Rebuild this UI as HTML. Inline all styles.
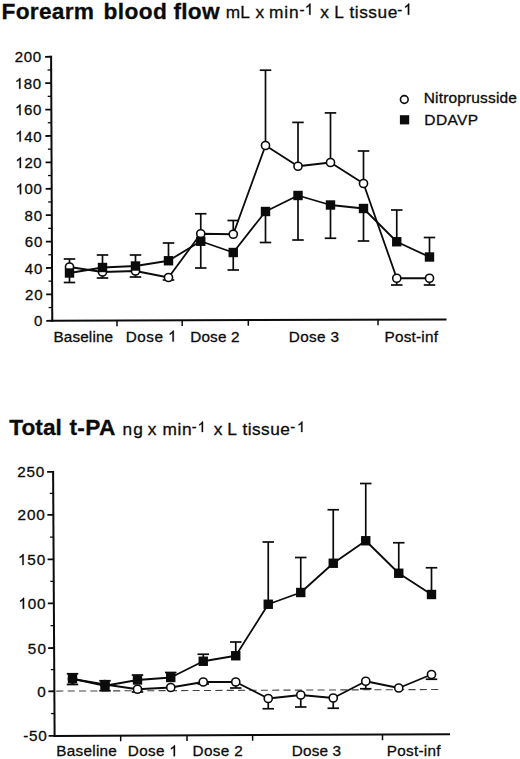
<!DOCTYPE html>
<html><head><meta charset="utf-8"><title>Figure</title>
<style>html,body{margin:0;padding:0;background:#fff;}body{width:520px;height:759px;overflow:hidden;font-family:"Liberation Sans", sans-serif;}svg{display:block;}text{font-family:"Liberation Sans", sans-serif;fill:#0b0b0b;stroke:#0b0b0b;stroke-width:0.3px;}</style>
</head><body>
<svg width="520" height="759" viewBox="0 0 520 759">
<rect x="0" y="0" width="520" height="759" fill="#ffffff"/>
<text x="1.58" y="18.8" font-size="22.7" font-weight="bold" letter-spacing="0.278">Forearm</text>
<text x="103.38" y="18.8" font-size="22.7" font-weight="bold" letter-spacing="0.425">blood</text>
<text x="173.4" y="18.8" font-size="22.7" font-weight="bold" letter-spacing="0.296">flow</text>
<text x="225.82" y="18.4" font-size="17.3" letter-spacing="-0.020">mL</text>
<text x="255.6" y="18.4" font-size="17.3">x</text>
<text x="268.92" y="18.4" font-size="17.3" letter-spacing="0.963">min</text>
<text x="299.53" y="14.6" font-size="15">-</text>
<path transform="translate(304.7 14.8) scale(0.00762 -0.00762)" d="M763 0L583 0L583 1147Q518 1085 412.5 1023Q307 961 223 930L223 1104Q374 1175 487 1276Q600 1377 647 1472L763 1472Z" fill="#0b0b0b" stroke="#0b0b0b" stroke-width="39.4"/>
<text x="320.3" y="18.4" font-size="17.3">x</text>
<text x="334.15" y="18.4" font-size="17.3">L</text>
<text x="349.5" y="18.4" font-size="17.3" letter-spacing="0.522">tissue</text>
<text x="397.33" y="14.6" font-size="15">-</text>
<path transform="translate(403.4 14.8) scale(0.00762 -0.00762)" d="M763 0L583 0L583 1147Q518 1085 412.5 1023Q307 961 223 930L223 1104Q374 1175 487 1276Q600 1377 647 1472L763 1472Z" fill="#0b0b0b" stroke="#0b0b0b" stroke-width="39.4"/>
<text x="9.2" y="435" font-size="22.7" font-weight="bold" letter-spacing="0.051">Total</text>
<text x="69.4" y="435" font-size="22.7" font-weight="bold" letter-spacing="0.355">t-PA</text>
<text x="122.42" y="434.8" font-size="17.3" letter-spacing="1.210">ng</text>
<text x="147.7" y="434.8" font-size="17.3">x</text>
<text x="162.42" y="434.8" font-size="17.3" letter-spacing="0.638">min</text>
<text x="191.8" y="431.9" font-size="14.5">-</text>
<path transform="translate(197.62 432) scale(0.00708 -0.00708)" d="M763 0L583 0L583 1147Q518 1085 412.5 1023Q307 961 223 930L223 1104Q374 1175 487 1276Q600 1377 647 1472L763 1472Z" fill="#0b0b0b" stroke="#0b0b0b" stroke-width="42.4"/>
<text x="213.7" y="434.8" font-size="17.3">x</text>
<text x="227.15" y="434.8" font-size="17.3">L</text>
<text x="242.5" y="434.8" font-size="17.3" letter-spacing="0.442">tissue</text>
<text x="290.15" y="431.9" font-size="14.5">-</text>
<path transform="translate(297.02 432) scale(0.00708 -0.00708)" d="M763 0L583 0L583 1147Q518 1085 412.5 1023Q307 961 223 930L223 1104Q374 1175 487 1276Q600 1377 647 1472L763 1472Z" fill="#0b0b0b" stroke="#0b0b0b" stroke-width="42.4"/>
<line x1="51.1" y1="55.85" x2="52.26" y2="321.75" stroke="#0b0b0b" stroke-width="2"/>
<line x1="51.25" y1="320.75" x2="446.5" y2="319.5" stroke="#0b0b0b" stroke-width="2"/>
<line x1="46.25" y1="320.78" x2="52.25" y2="320.75" stroke="#0b0b0b" stroke-width="1.8"/>
<text x="34.02" y="326.35" font-size="15">0</text>
<line x1="46.14" y1="294.38" x2="52.14" y2="294.35" stroke="#0b0b0b" stroke-width="1.8"/>
<text x="25.05" y="299.95" font-size="15" letter-spacing="0.858">20</text>
<line x1="46.02" y1="267.98" x2="52.02" y2="267.95" stroke="#0b0b0b" stroke-width="1.8"/>
<text x="24.84" y="273.55" font-size="15" letter-spacing="0.884">40</text>
<line x1="45.91" y1="241.58" x2="51.91" y2="241.55" stroke="#0b0b0b" stroke-width="1.8"/>
<text x="24.69" y="247.15" font-size="15" letter-spacing="0.858">60</text>
<line x1="45.79" y1="215.18" x2="51.79" y2="215.15" stroke="#0b0b0b" stroke-width="1.8"/>
<text x="24.5" y="220.75" font-size="15" letter-spacing="0.871">80</text>
<line x1="45.68" y1="188.78" x2="51.68" y2="188.75" stroke="#0b0b0b" stroke-width="1.8"/>
<path transform="translate(15.58 194.35) scale(0.00732 -0.00732)" d="M763 0L583 0L583 1147Q518 1085 412.5 1023Q307 961 223 930L223 1104Q374 1175 487 1276Q600 1377 647 1472L763 1472Z" fill="#0b0b0b" stroke="#0b0b0b" stroke-width="41.0"/><text x="24.56" y="194.35" font-size="15" letter-spacing="0.633">00</text>
<line x1="45.56" y1="162.38" x2="51.56" y2="162.35" stroke="#0b0b0b" stroke-width="1.8"/>
<path transform="translate(15.4 167.95) scale(0.00732 -0.00732)" d="M763 0L583 0L583 1147Q518 1085 412.5 1023Q307 961 223 930L223 1104Q374 1175 487 1276Q600 1377 647 1472L763 1472Z" fill="#0b0b0b" stroke="#0b0b0b" stroke-width="41.0"/><text x="24.38" y="167.95" font-size="15" letter-spacing="0.633">20</text>
<line x1="45.45" y1="135.98" x2="51.45" y2="135.95" stroke="#0b0b0b" stroke-width="1.8"/>
<path transform="translate(15.22 141.55) scale(0.00732 -0.00732)" d="M763 0L583 0L583 1147Q518 1085 412.5 1023Q307 961 223 930L223 1104Q374 1175 487 1276Q600 1377 647 1472L763 1472Z" fill="#0b0b0b" stroke="#0b0b0b" stroke-width="41.0"/><text x="24.2" y="141.55" font-size="15" letter-spacing="0.633">40</text>
<line x1="45.33" y1="109.58" x2="51.33" y2="109.55" stroke="#0b0b0b" stroke-width="1.8"/>
<path transform="translate(15.04 115.15) scale(0.00732 -0.00732)" d="M763 0L583 0L583 1147Q518 1085 412.5 1023Q307 961 223 930L223 1104Q374 1175 487 1276Q600 1377 647 1472L763 1472Z" fill="#0b0b0b" stroke="#0b0b0b" stroke-width="41.0"/><text x="24.02" y="115.15" font-size="15" letter-spacing="0.633">60</text>
<line x1="45.22" y1="83.18" x2="51.22" y2="83.15" stroke="#0b0b0b" stroke-width="1.8"/>
<path transform="translate(14.86 88.75) scale(0.00732 -0.00732)" d="M763 0L583 0L583 1147Q518 1085 412.5 1023Q307 961 223 930L223 1104Q374 1175 487 1276Q600 1377 647 1472L763 1472Z" fill="#0b0b0b" stroke="#0b0b0b" stroke-width="41.0"/><text x="23.84" y="88.75" font-size="15" letter-spacing="0.633">80</text>
<line x1="45.1" y1="56.78" x2="51.1" y2="56.75" stroke="#0b0b0b" stroke-width="1.8"/>
<text x="14.63" y="62.35" font-size="15" letter-spacing="0.659">200</text>
<line x1="48.6" y1="307.55" x2="52.2" y2="307.55" stroke="#0b0b0b" stroke-width="1.3"/>
<line x1="48.48" y1="281.15" x2="52.08" y2="281.15" stroke="#0b0b0b" stroke-width="1.3"/>
<line x1="48.37" y1="254.75" x2="51.97" y2="254.75" stroke="#0b0b0b" stroke-width="1.3"/>
<line x1="48.25" y1="228.35" x2="51.85" y2="228.35" stroke="#0b0b0b" stroke-width="1.3"/>
<line x1="48.14" y1="201.95" x2="51.74" y2="201.95" stroke="#0b0b0b" stroke-width="1.3"/>
<line x1="48.02" y1="175.55" x2="51.62" y2="175.55" stroke="#0b0b0b" stroke-width="1.3"/>
<line x1="47.91" y1="149.15" x2="51.51" y2="149.15" stroke="#0b0b0b" stroke-width="1.3"/>
<line x1="47.79" y1="122.75" x2="51.39" y2="122.75" stroke="#0b0b0b" stroke-width="1.3"/>
<line x1="47.68" y1="96.35" x2="51.28" y2="96.35" stroke="#0b0b0b" stroke-width="1.3"/>
<line x1="47.56" y1="69.95" x2="51.16" y2="69.95" stroke="#0b0b0b" stroke-width="1.3"/>
<line x1="117" y1="320.54" x2="117.03" y2="326.14" stroke="#0b0b0b" stroke-width="1.5"/>
<line x1="182.2" y1="320.34" x2="182.23" y2="325.94" stroke="#0b0b0b" stroke-width="1.5"/>
<line x1="248.3" y1="320.13" x2="248.33" y2="325.73" stroke="#0b0b0b" stroke-width="1.5"/>
<line x1="378" y1="319.72" x2="378.03" y2="325.32" stroke="#0b0b0b" stroke-width="1.5"/>
<text x="53.4" y="341.6" font-size="15.3" letter-spacing="0.147">Baseline</text>
<text x="125.8" y="341.6" font-size="15.3" letter-spacing="0.465">Dose</text><path transform="translate(168.1 341.6) scale(0.00747 -0.00747)" d="M763 0L583 0L583 1147Q518 1085 412.5 1023Q307 961 223 930L223 1104Q374 1175 487 1276Q600 1377 647 1472L763 1472Z" fill="#0b0b0b" stroke="#0b0b0b" stroke-width="40.2"/>
<text x="190.2" y="341.6" font-size="15.3" letter-spacing="0.188">Dose 2</text>
<text x="288.8" y="341.6" font-size="15.3" letter-spacing="0.368">Dose 3</text>
<text x="384.55" y="341.6" font-size="15.3" letter-spacing="0.218">Post-inf</text>
<line x1="69.5" y1="267" x2="69.5" y2="259" stroke="#0b0b0b" stroke-width="1.7"/>
<line x1="63.75" y1="259" x2="75.25" y2="259" stroke="#0b0b0b" stroke-width="1.7"/>
<line x1="69.5" y1="273" x2="69.5" y2="282.5" stroke="#0b0b0b" stroke-width="1.7"/>
<line x1="63.75" y1="282.5" x2="75.25" y2="282.5" stroke="#0b0b0b" stroke-width="1.7"/>
<line x1="102.5" y1="272" x2="102.5" y2="278" stroke="#0b0b0b" stroke-width="1.7"/>
<line x1="96.75" y1="278" x2="108.25" y2="278" stroke="#0b0b0b" stroke-width="1.7"/>
<line x1="102.5" y1="267.5" x2="102.5" y2="255" stroke="#0b0b0b" stroke-width="1.7"/>
<line x1="96.75" y1="255" x2="108.25" y2="255" stroke="#0b0b0b" stroke-width="1.7"/>
<line x1="135.5" y1="271" x2="135.5" y2="277" stroke="#0b0b0b" stroke-width="1.7"/>
<line x1="129.75" y1="277" x2="141.25" y2="277" stroke="#0b0b0b" stroke-width="1.7"/>
<line x1="135.5" y1="266" x2="135.5" y2="255" stroke="#0b0b0b" stroke-width="1.7"/>
<line x1="129.75" y1="255" x2="141.25" y2="255" stroke="#0b0b0b" stroke-width="1.7"/>
<line x1="168.5" y1="277.5" x2="168.5" y2="280" stroke="#0b0b0b" stroke-width="1.7"/>
<line x1="162.75" y1="280" x2="174.25" y2="280" stroke="#0b0b0b" stroke-width="1.7"/>
<line x1="168.5" y1="260.75" x2="168.5" y2="243" stroke="#0b0b0b" stroke-width="1.7"/>
<line x1="162.75" y1="243" x2="174.25" y2="243" stroke="#0b0b0b" stroke-width="1.7"/>
<line x1="200.75" y1="233.75" x2="200.75" y2="213.75" stroke="#0b0b0b" stroke-width="1.7"/>
<line x1="195" y1="213.75" x2="206.5" y2="213.75" stroke="#0b0b0b" stroke-width="1.7"/>
<line x1="200.75" y1="241.25" x2="200.75" y2="268" stroke="#0b0b0b" stroke-width="1.7"/>
<line x1="195" y1="268" x2="206.5" y2="268" stroke="#0b0b0b" stroke-width="1.7"/>
<line x1="233.25" y1="234.25" x2="233.25" y2="220.5" stroke="#0b0b0b" stroke-width="1.7"/>
<line x1="227.5" y1="220.5" x2="239" y2="220.5" stroke="#0b0b0b" stroke-width="1.7"/>
<line x1="233.25" y1="252.5" x2="233.25" y2="270" stroke="#0b0b0b" stroke-width="1.7"/>
<line x1="227.5" y1="270" x2="239" y2="270" stroke="#0b0b0b" stroke-width="1.7"/>
<line x1="265.5" y1="145.5" x2="265.5" y2="70.2" stroke="#0b0b0b" stroke-width="1.7"/>
<line x1="259.75" y1="70.2" x2="271.25" y2="70.2" stroke="#0b0b0b" stroke-width="1.7"/>
<line x1="265.5" y1="211.5" x2="265.5" y2="242.5" stroke="#0b0b0b" stroke-width="1.7"/>
<line x1="259.75" y1="242.5" x2="271.25" y2="242.5" stroke="#0b0b0b" stroke-width="1.7"/>
<line x1="298" y1="166.25" x2="298" y2="122.4" stroke="#0b0b0b" stroke-width="1.7"/>
<line x1="292.25" y1="122.4" x2="303.75" y2="122.4" stroke="#0b0b0b" stroke-width="1.7"/>
<line x1="298" y1="195.5" x2="298" y2="240" stroke="#0b0b0b" stroke-width="1.7"/>
<line x1="292.25" y1="240" x2="303.75" y2="240" stroke="#0b0b0b" stroke-width="1.7"/>
<line x1="330.5" y1="162.5" x2="330.5" y2="112.9" stroke="#0b0b0b" stroke-width="1.7"/>
<line x1="324.75" y1="112.9" x2="336.25" y2="112.9" stroke="#0b0b0b" stroke-width="1.7"/>
<line x1="330.5" y1="205" x2="330.5" y2="238.25" stroke="#0b0b0b" stroke-width="1.7"/>
<line x1="324.75" y1="238.25" x2="336.25" y2="238.25" stroke="#0b0b0b" stroke-width="1.7"/>
<line x1="363.5" y1="183.5" x2="363.5" y2="151" stroke="#0b0b0b" stroke-width="1.7"/>
<line x1="357.75" y1="151" x2="369.25" y2="151" stroke="#0b0b0b" stroke-width="1.7"/>
<line x1="363.5" y1="208.5" x2="363.5" y2="241" stroke="#0b0b0b" stroke-width="1.7"/>
<line x1="357.75" y1="241" x2="369.25" y2="241" stroke="#0b0b0b" stroke-width="1.7"/>
<line x1="396.75" y1="278.25" x2="396.75" y2="285" stroke="#0b0b0b" stroke-width="1.7"/>
<line x1="391" y1="285" x2="402.5" y2="285" stroke="#0b0b0b" stroke-width="1.7"/>
<line x1="396.75" y1="241.75" x2="396.75" y2="210" stroke="#0b0b0b" stroke-width="1.7"/>
<line x1="391" y1="210" x2="402.5" y2="210" stroke="#0b0b0b" stroke-width="1.7"/>
<line x1="429.5" y1="278.25" x2="429.5" y2="285" stroke="#0b0b0b" stroke-width="1.7"/>
<line x1="423.75" y1="285" x2="435.25" y2="285" stroke="#0b0b0b" stroke-width="1.7"/>
<line x1="429.5" y1="257" x2="429.5" y2="237.5" stroke="#0b0b0b" stroke-width="1.7"/>
<line x1="423.75" y1="237.5" x2="435.25" y2="237.5" stroke="#0b0b0b" stroke-width="1.7"/>
<polyline points="69.5,267 102.5,272 135.5,271 168.5,277.5 200.75,233.75 233.25,234.25 265.5,145.5 298,166.25 330.5,162.5 363.5,183.5 396.75,278.25 429.5,278.25" fill="none" stroke="#0b0b0b" stroke-width="1.8" stroke-linejoin="round"/>
<polyline points="69.5,273 102.5,267.5 135.5,266 168.5,260.75 200.75,241.25 233.25,252.5 265.5,211.5 298,195.5 330.5,205 363.5,208.5 396.75,241.75 429.5,257" fill="none" stroke="#0b0b0b" stroke-width="1.8" stroke-linejoin="round"/>
<circle cx="69.5" cy="267" r="4.05" fill="#fff" stroke="#0b0b0b" stroke-width="1.6"/>
<circle cx="102.5" cy="272" r="4.05" fill="#fff" stroke="#0b0b0b" stroke-width="1.6"/>
<circle cx="135.5" cy="271" r="4.05" fill="#fff" stroke="#0b0b0b" stroke-width="1.6"/>
<circle cx="168.5" cy="277.5" r="4.05" fill="#fff" stroke="#0b0b0b" stroke-width="1.6"/>
<circle cx="200.75" cy="233.75" r="4.05" fill="#fff" stroke="#0b0b0b" stroke-width="1.6"/>
<circle cx="233.25" cy="234.25" r="4.05" fill="#fff" stroke="#0b0b0b" stroke-width="1.6"/>
<circle cx="265.5" cy="145.5" r="4.05" fill="#fff" stroke="#0b0b0b" stroke-width="1.6"/>
<circle cx="298" cy="166.25" r="4.05" fill="#fff" stroke="#0b0b0b" stroke-width="1.6"/>
<circle cx="330.5" cy="162.5" r="4.05" fill="#fff" stroke="#0b0b0b" stroke-width="1.6"/>
<circle cx="363.5" cy="183.5" r="4.05" fill="#fff" stroke="#0b0b0b" stroke-width="1.6"/>
<circle cx="396.75" cy="278.25" r="4.05" fill="#fff" stroke="#0b0b0b" stroke-width="1.6"/>
<circle cx="429.5" cy="278.25" r="4.05" fill="#fff" stroke="#0b0b0b" stroke-width="1.6"/>
<rect x="64.8" y="268.3" width="9.4" height="9.4" fill="#0b0b0b"/>
<rect x="97.8" y="262.8" width="9.4" height="9.4" fill="#0b0b0b"/>
<rect x="130.8" y="261.3" width="9.4" height="9.4" fill="#0b0b0b"/>
<rect x="163.8" y="256.05" width="9.4" height="9.4" fill="#0b0b0b"/>
<rect x="196.05" y="236.55" width="9.4" height="9.4" fill="#0b0b0b"/>
<rect x="228.55" y="247.8" width="9.4" height="9.4" fill="#0b0b0b"/>
<rect x="260.8" y="206.8" width="9.4" height="9.4" fill="#0b0b0b"/>
<rect x="293.3" y="190.8" width="9.4" height="9.4" fill="#0b0b0b"/>
<rect x="325.8" y="200.3" width="9.4" height="9.4" fill="#0b0b0b"/>
<rect x="358.8" y="203.8" width="9.4" height="9.4" fill="#0b0b0b"/>
<rect x="392.05" y="237.05" width="9.4" height="9.4" fill="#0b0b0b"/>
<rect x="424.8" y="252.3" width="9.4" height="9.4" fill="#0b0b0b"/>
<circle cx="404.3" cy="99.5" r="3.85" fill="#fff" stroke="#0b0b0b" stroke-width="1.6"/>
<rect x="399.9" y="115.2" width="9.3" height="9.2" fill="#0b0b0b"/>
<text x="423.79" y="103" font-size="15.5" letter-spacing="0.148">Nitroprusside</text>
<text x="424.29" y="124.5" font-size="15.5" letter-spacing="0.402">DDAVP</text>
<line x1="56.3" y1="691.1" x2="440" y2="689.5" stroke="#444" stroke-width="1.1" stroke-dasharray="7.1 4.26"/>
<line x1="53.1" y1="471" x2="54.61" y2="736.9" stroke="#0b0b0b" stroke-width="2"/>
<line x1="53.61" y1="735.9" x2="450" y2="734.3" stroke="#0b0b0b" stroke-width="2"/>
<line x1="47.11" y1="471.93" x2="53.11" y2="471.9" stroke="#0b0b0b" stroke-width="1.8"/>
<text x="17.14" y="477.45" font-size="15.3" letter-spacing="0.855">250</text>
<line x1="47.35" y1="514.93" x2="53.35" y2="514.9" stroke="#0b0b0b" stroke-width="1.8"/>
<text x="17.53" y="520.45" font-size="15.3" letter-spacing="0.855">200</text>
<line x1="47.6" y1="559.43" x2="53.6" y2="559.4" stroke="#0b0b0b" stroke-width="1.8"/>
<path transform="translate(18 564.95) scale(0.00747 -0.00747)" d="M763 0L583 0L583 1147Q518 1085 412.5 1023Q307 961 223 930L223 1104Q374 1175 487 1276Q600 1377 647 1472L763 1472Z" fill="#0b0b0b" stroke="#0b0b0b" stroke-width="40.2"/><text x="27.34" y="564.95" font-size="15.3" letter-spacing="0.822">50</text>
<line x1="47.85" y1="603.33" x2="53.85" y2="603.3" stroke="#0b0b0b" stroke-width="1.8"/>
<path transform="translate(18.4 608.85) scale(0.00747 -0.00747)" d="M763 0L583 0L583 1147Q518 1085 412.5 1023Q307 961 223 930L223 1104Q374 1175 487 1276Q600 1377 647 1472L763 1472Z" fill="#0b0b0b" stroke="#0b0b0b" stroke-width="40.2"/><text x="27.73" y="608.85" font-size="15.3" letter-spacing="0.822">00</text>
<line x1="48.11" y1="648.03" x2="54.11" y2="648" stroke="#0b0b0b" stroke-width="1.8"/>
<text x="27.83" y="653.55" font-size="15.3" letter-spacing="1.131">50</text>
<line x1="48.35" y1="691.28" x2="54.35" y2="691.25" stroke="#0b0b0b" stroke-width="1.8"/>
<text x="37.33" y="696.8" font-size="15.3">0</text>
<line x1="48.61" y1="735.93" x2="54.61" y2="735.9" stroke="#0b0b0b" stroke-width="1.8"/>
<text x="23.18" y="741.45" font-size="15.3" letter-spacing="0.744">-50</text>
<line x1="49.83" y1="493.4" x2="53.23" y2="493.4" stroke="#0b0b0b" stroke-width="1.3"/>
<line x1="50.08" y1="537.15" x2="53.48" y2="537.15" stroke="#0b0b0b" stroke-width="1.3"/>
<line x1="50.33" y1="581.35" x2="53.73" y2="581.35" stroke="#0b0b0b" stroke-width="1.3"/>
<line x1="50.58" y1="625.65" x2="53.98" y2="625.65" stroke="#0b0b0b" stroke-width="1.3"/>
<line x1="50.83" y1="669.62" x2="54.23" y2="669.62" stroke="#0b0b0b" stroke-width="1.3"/>
<line x1="51.08" y1="713.58" x2="54.48" y2="713.58" stroke="#0b0b0b" stroke-width="1.3"/>
<line x1="120.7" y1="735.63" x2="120.73" y2="741.23" stroke="#0b0b0b" stroke-width="1.5"/>
<line x1="187" y1="735.36" x2="187.03" y2="740.96" stroke="#0b0b0b" stroke-width="1.5"/>
<line x1="252.6" y1="735.1" x2="252.63" y2="740.7" stroke="#0b0b0b" stroke-width="1.5"/>
<line x1="382.5" y1="734.57" x2="382.53" y2="740.17" stroke="#0b0b0b" stroke-width="1.5"/>
<text x="56.3" y="756.2" font-size="15.3" letter-spacing="0.268">Baseline</text>
<text x="127.8" y="756.2" font-size="15.3" letter-spacing="0.305">Dose</text><path transform="translate(169.3 756.2) scale(0.00747 -0.00747)" d="M763 0L583 0L583 1147Q518 1085 412.5 1023Q307 961 223 930L223 1104Q374 1175 487 1276Q600 1377 647 1472L763 1472Z" fill="#0b0b0b" stroke="#0b0b0b" stroke-width="40.2"/>
<text x="192.6" y="756.2" font-size="15.3" letter-spacing="0.348">Dose 2</text>
<text x="291.8" y="756.2" font-size="15.3" letter-spacing="0.168">Dose 3</text>
<text x="386.8" y="756.2" font-size="15.3" letter-spacing="0.253">Post-inf</text>
<line x1="72.5" y1="678.75" x2="72.5" y2="673.75" stroke="#0b0b0b" stroke-width="1.7"/>
<line x1="66.75" y1="673.75" x2="78.25" y2="673.75" stroke="#0b0b0b" stroke-width="1.7"/>
<line x1="72.5" y1="678.75" x2="72.5" y2="684.5" stroke="#0b0b0b" stroke-width="1.7"/>
<line x1="66.75" y1="684.5" x2="78.25" y2="684.5" stroke="#0b0b0b" stroke-width="1.7"/>
<line x1="105" y1="685.75" x2="105" y2="680.75" stroke="#0b0b0b" stroke-width="1.7"/>
<line x1="99.25" y1="680.75" x2="110.75" y2="680.75" stroke="#0b0b0b" stroke-width="1.7"/>
<line x1="105" y1="685.75" x2="105" y2="690.75" stroke="#0b0b0b" stroke-width="1.7"/>
<line x1="99.25" y1="690.75" x2="110.75" y2="690.75" stroke="#0b0b0b" stroke-width="1.7"/>
<line x1="137.5" y1="680" x2="137.5" y2="675" stroke="#0b0b0b" stroke-width="1.7"/>
<line x1="131.75" y1="675" x2="143.25" y2="675" stroke="#0b0b0b" stroke-width="1.7"/>
<line x1="137.5" y1="689.25" x2="137.5" y2="692" stroke="#0b0b0b" stroke-width="1.7"/>
<line x1="131.75" y1="692" x2="143.25" y2="692" stroke="#0b0b0b" stroke-width="1.7"/>
<line x1="170.75" y1="677.5" x2="170.75" y2="672.5" stroke="#0b0b0b" stroke-width="1.7"/>
<line x1="165" y1="672.5" x2="176.5" y2="672.5" stroke="#0b0b0b" stroke-width="1.7"/>
<line x1="203.25" y1="661.25" x2="203.25" y2="654.25" stroke="#0b0b0b" stroke-width="1.7"/>
<line x1="197.5" y1="654.25" x2="209" y2="654.25" stroke="#0b0b0b" stroke-width="1.7"/>
<line x1="203.25" y1="682" x2="203.25" y2="684" stroke="#0b0b0b" stroke-width="1.7"/>
<line x1="197.5" y1="684" x2="209" y2="684" stroke="#0b0b0b" stroke-width="1.7"/>
<line x1="235.75" y1="655.75" x2="235.75" y2="642" stroke="#0b0b0b" stroke-width="1.7"/>
<line x1="230" y1="642" x2="241.5" y2="642" stroke="#0b0b0b" stroke-width="1.7"/>
<line x1="235.75" y1="682" x2="235.75" y2="688" stroke="#0b0b0b" stroke-width="1.7"/>
<line x1="230" y1="688" x2="241.5" y2="688" stroke="#0b0b0b" stroke-width="1.7"/>
<line x1="268.25" y1="604.25" x2="268.25" y2="542" stroke="#0b0b0b" stroke-width="1.7"/>
<line x1="262.5" y1="542" x2="274" y2="542" stroke="#0b0b0b" stroke-width="1.7"/>
<line x1="268.25" y1="698.5" x2="268.25" y2="708.75" stroke="#0b0b0b" stroke-width="1.7"/>
<line x1="262.5" y1="708.75" x2="274" y2="708.75" stroke="#0b0b0b" stroke-width="1.7"/>
<line x1="300.75" y1="592.5" x2="300.75" y2="557.5" stroke="#0b0b0b" stroke-width="1.7"/>
<line x1="295" y1="557.5" x2="306.5" y2="557.5" stroke="#0b0b0b" stroke-width="1.7"/>
<line x1="300.75" y1="695" x2="300.75" y2="707" stroke="#0b0b0b" stroke-width="1.7"/>
<line x1="295" y1="707" x2="306.5" y2="707" stroke="#0b0b0b" stroke-width="1.7"/>
<line x1="333.25" y1="563.25" x2="333.25" y2="509.75" stroke="#0b0b0b" stroke-width="1.7"/>
<line x1="327.5" y1="509.75" x2="339" y2="509.75" stroke="#0b0b0b" stroke-width="1.7"/>
<line x1="333.25" y1="698" x2="333.25" y2="708.25" stroke="#0b0b0b" stroke-width="1.7"/>
<line x1="327.5" y1="708.25" x2="339" y2="708.25" stroke="#0b0b0b" stroke-width="1.7"/>
<line x1="365.75" y1="540.75" x2="365.75" y2="483.5" stroke="#0b0b0b" stroke-width="1.7"/>
<line x1="360" y1="483.5" x2="371.5" y2="483.5" stroke="#0b0b0b" stroke-width="1.7"/>
<line x1="365.75" y1="681.25" x2="365.75" y2="688.75" stroke="#0b0b0b" stroke-width="1.7"/>
<line x1="360" y1="688.75" x2="371.5" y2="688.75" stroke="#0b0b0b" stroke-width="1.7"/>
<line x1="398.75" y1="573.25" x2="398.75" y2="542.75" stroke="#0b0b0b" stroke-width="1.7"/>
<line x1="393" y1="542.75" x2="404.5" y2="542.75" stroke="#0b0b0b" stroke-width="1.7"/>
<line x1="431.5" y1="594.5" x2="431.5" y2="567.75" stroke="#0b0b0b" stroke-width="1.7"/>
<line x1="425.75" y1="567.75" x2="437.25" y2="567.75" stroke="#0b0b0b" stroke-width="1.7"/>
<line x1="431.5" y1="674.5" x2="431.5" y2="679.25" stroke="#0b0b0b" stroke-width="1.7"/>
<line x1="425.75" y1="679.25" x2="437.25" y2="679.25" stroke="#0b0b0b" stroke-width="1.7"/>
<polyline points="72.5,679 105,684.5 137.5,689.25 170.75,687.5 203.25,682 235.75,682 268.25,698.5 300.75,695 333.25,698 365.75,681.25 398.75,688 431.5,674.5" fill="none" stroke="#0b0b0b" stroke-width="1.8" stroke-linejoin="round"/>
<polyline points="72.5,678.75 105,685.75 137.5,680 170.75,677.5 203.25,661.25 235.75,655.75 268.25,604.25 300.75,592.5 333.25,563.25 365.75,540.75 398.75,573.25 431.5,594.5" fill="none" stroke="#0b0b0b" stroke-width="1.8" stroke-linejoin="round"/>
<circle cx="72.5" cy="679" r="4.05" fill="#fff" stroke="#0b0b0b" stroke-width="1.6"/>
<circle cx="105" cy="684.5" r="4.05" fill="#fff" stroke="#0b0b0b" stroke-width="1.6"/>
<circle cx="137.5" cy="689.25" r="4.05" fill="#fff" stroke="#0b0b0b" stroke-width="1.6"/>
<circle cx="170.75" cy="687.5" r="4.05" fill="#fff" stroke="#0b0b0b" stroke-width="1.6"/>
<circle cx="203.25" cy="682" r="4.05" fill="#fff" stroke="#0b0b0b" stroke-width="1.6"/>
<circle cx="235.75" cy="682" r="4.05" fill="#fff" stroke="#0b0b0b" stroke-width="1.6"/>
<circle cx="268.25" cy="698.5" r="4.05" fill="#fff" stroke="#0b0b0b" stroke-width="1.6"/>
<circle cx="300.75" cy="695" r="4.05" fill="#fff" stroke="#0b0b0b" stroke-width="1.6"/>
<circle cx="333.25" cy="698" r="4.05" fill="#fff" stroke="#0b0b0b" stroke-width="1.6"/>
<circle cx="365.75" cy="681.25" r="4.05" fill="#fff" stroke="#0b0b0b" stroke-width="1.6"/>
<circle cx="398.75" cy="688" r="4.05" fill="#fff" stroke="#0b0b0b" stroke-width="1.6"/>
<circle cx="431.5" cy="674.5" r="4.05" fill="#fff" stroke="#0b0b0b" stroke-width="1.6"/>
<rect x="67.8" y="674.05" width="9.4" height="9.4" fill="#0b0b0b"/>
<rect x="100.3" y="681.05" width="9.4" height="9.4" fill="#0b0b0b"/>
<rect x="132.8" y="675.3" width="9.4" height="9.4" fill="#0b0b0b"/>
<rect x="166.05" y="672.8" width="9.4" height="9.4" fill="#0b0b0b"/>
<rect x="198.55" y="656.55" width="9.4" height="9.4" fill="#0b0b0b"/>
<rect x="231.05" y="651.05" width="9.4" height="9.4" fill="#0b0b0b"/>
<rect x="263.55" y="599.55" width="9.4" height="9.4" fill="#0b0b0b"/>
<rect x="296.05" y="587.8" width="9.4" height="9.4" fill="#0b0b0b"/>
<rect x="328.55" y="558.55" width="9.4" height="9.4" fill="#0b0b0b"/>
<rect x="361.05" y="536.05" width="9.4" height="9.4" fill="#0b0b0b"/>
<rect x="394.05" y="568.55" width="9.4" height="9.4" fill="#0b0b0b"/>
<rect x="426.8" y="589.8" width="9.4" height="9.4" fill="#0b0b0b"/>
</svg>
</body></html>
